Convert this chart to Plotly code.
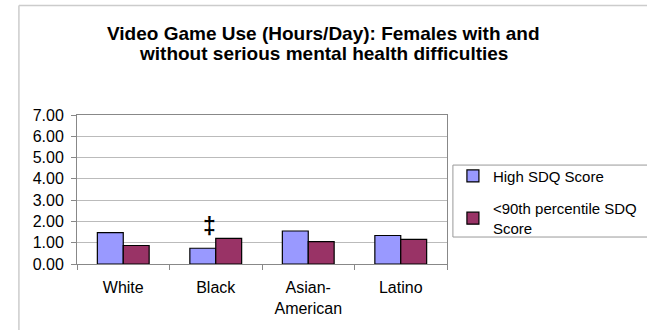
import plotly.graph_objects as go

categories = ["White", "Black", "Asian-<br>American", "Latino"]
high_sdq = [1.47, 0.74, 1.55, 1.34]
low_sdq = [0.87, 1.20, 1.05, 1.16]
series_names = ["High SDQ Score", "&lt;90th percentile SDQ<br>Score"]
y_ticks = [0, 1, 2, 3, 4, 5, 6, 7]
title_lines = ["<b>Video Game Use (Hours/Day): Females with and</b>",
               "<b>without serious mental health difficulties</b>"]

font = "Liberation Sans, Arial, sans-serif"

fig = go.Figure()
fig.add_trace(go.Bar(x=categories, y=high_sdq, name=series_names[0], legendgroup="g1",
                     marker=dict(color="#9999FF", line=dict(color="#000000", width=1.2))))
fig.add_trace(go.Bar(x=categories, y=low_sdq, name=series_names[1], legendgroup="g2",
                     marker=dict(color="#993366", line=dict(color="#000000", width=1.2))))

fig.add_annotation(x=categories[1], y=high_sdq[1], text="<b>‡</b>", showarrow=False,
                   yanchor="bottom", xshift=-6, yshift=7, font=dict(family=font, size=23, color="#000"))

# title as two lines with tighter spacing
for txt, yp in zip(title_lines, [1.55, 1.41]):
    fig.add_annotation(xref="paper", yref="paper", x=0.665, y=yp, text=txt, showarrow=False,
                       xanchor="center", yanchor="middle",
                       font=dict(family=font, size=19, color="#000"))

fig.update_layout(
    width=647, height=330,
    margin=dict(l=77, r=200, t=115, b=66, autoexpand=False),
    paper_bgcolor="white", plot_bgcolor="white",
    barmode="group", bargap=0.44, bargroupgap=0,
    font=dict(family=font, size=16, color="#000"),
    showlegend=True,
    legend=dict(x=1.016, xanchor="left", y=0.70, yanchor="top",
                borderwidth=0, bgcolor="rgba(0,0,0,0)",
                font=dict(family=font, size=15, color="#000"),
                tracegroupgap=10, itemwidth=30, traceorder="grouped"),
    xaxis=dict(showline=True, linecolor="#888888", linewidth=1, mirror=True,
               ticks="outside", tickson="boundaries", ticklen=5, tickcolor="#888888",
               ticklabelstandoff=9, automargin=False,
               tickfont=dict(family=font, size=16, color="#000")),
    yaxis=dict(range=[0, 7], tickvals=y_ticks, tickformat=".2f",
               showgrid=True, gridcolor="#bbbbbb", gridwidth=1,
               showline=True, linecolor="#888888", linewidth=1, mirror=True,
               ticks="outside", ticklen=5, tickcolor="#888888", automargin=False,
               ticklabelstandoff=4,
               tickfont=dict(family=font, size=16, color="#000"), zeroline=False),
)

# legend frame (extends past the right edge as in the reference)
fig.add_shape(type="rect", xref="paper", yref="paper", x0=1.016, x1=1.6, y0=0.181, y1=0.664,
              line=dict(color="#999999", width=1), fillcolor="rgba(0,0,0,0)", layer="below")

# outer chart-area frame (left and top edges visible in the reference)
fig.add_shape(type="line", xref="paper", yref="paper", x0=-0.157, x1=1.6, y0=1.735, y1=1.735,
              line=dict(color="#cccccc", width=1.5))
fig.add_shape(type="line", xref="paper", yref="paper", x0=-0.157, x1=-0.157, y0=-0.5, y1=1.735,
              line=dict(color="#cccccc", width=1.5))

fig.write_html("out.html")
